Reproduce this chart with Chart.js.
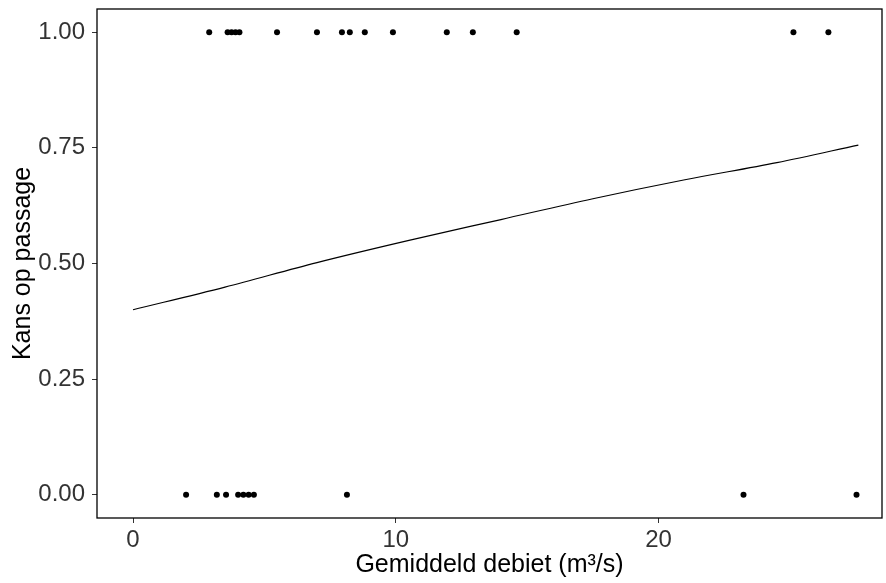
<!DOCTYPE html>
<html>
<head>
<meta charset="utf-8">
<script src="https://cdn.jsdelivr.net/npm/chart.js@4/dist/chart.umd.min.js"></script>
<style>
  html, body { margin: 0; padding: 0; background: #fff; }
  #chart { display: block; }
</style>
</head>
<body>
<canvas id="chart" width="886" height="583"></canvas>
<script>
// observed passages (1) and non-passages (0) by mean discharge
const passX = [2.9, 3.6, 3.75, 3.9, 4.05, 5.48, 7.0, 7.95, 8.25, 8.82, 9.89, 11.94, 12.93, 14.6, 25.13, 26.46];
const failX = [2.02, 3.19, 3.54, 4.0, 4.2, 4.4, 4.6, 8.14, 23.23, 27.53];

// fitted curve
const fitX = [0, 3.5, 7, 10.5, 14, 17.5, 21, 24.5, 27.6];
const fitY = [0.400, 0.449, 0.502, 0.550, 0.595, 0.640, 0.681, 0.718, 0.756];

const xTicks = [0, 10, 20];
const yTicks = [0, 0.25, 0.5, 0.75, 1];

const tickFont = { family: "Liberation Sans, Arial, sans-serif", size: 24 };
const titleFont = { family: "Liberation Sans, Arial, sans-serif", size: 25 };

// ggplot-style panel border all round
const panelBorder = {
  id: "panelBorder",
  afterDraw(chart) {
    const { ctx, chartArea: a } = chart;
    ctx.save();
    ctx.strokeStyle = "#000";
    ctx.lineWidth = 1.3;
    ctx.strokeRect(a.left, a.top, a.right - a.left, a.bottom - a.top);
    ctx.restore();
  }
};

new Chart(document.getElementById("chart"), {
  type: "scatter",
  data: {
    datasets: [
      {
        data: passX.map(x => ({ x: x, y: 1 })),
        pointRadius: 3,
        pointBackgroundColor: "#000",
        pointBorderWidth: 0
      },
      {
        data: failX.map(x => ({ x: x, y: 0 })),
        pointRadius: 3,
        pointBackgroundColor: "#000",
        pointBorderWidth: 0
      },
      {
        type: "line",
        data: fitX.map((x, i) => ({ x: x, y: fitY[i] })),
        borderColor: "#000",
        borderWidth: 1.2,
        pointRadius: 0,
        fill: false,
        cubicInterpolationMode: "monotone"
      }
    ]
  },
  options: {
    responsive: false,
    animation: false,
    layout: { padding: { left: 0, right: 2, top: 9, bottom: 0 } },
    plugins: {
      legend: { display: false },
      tooltip: { enabled: false }
    },
    scales: {
      x: {
        type: "linear",
        min: -1.37,
        max: 28.5,
        afterBuildTicks: scale => { scale.ticks = xTicks.map(v => ({ value: v })); },
        afterFit: scale => {
          scale.height = 65;
          scale.paddingLeft = 0;
          scale.paddingRight = 0;
        },
        ticks: { font: tickFont, color: "#333", padding: 3, maxRotation: 0 },
        grid: { drawOnChartArea: false, drawTicks: true, tickLength: 5, tickColor: "#333" },
        border: { display: false },
        title: {
          display: true,
          text: "Gemiddeld debiet (m³/s)",
          font: titleFont,
          color: "#000",
          padding: { top: 0, bottom: 3 }
        }
      },
      y: {
        type: "linear",
        min: -0.05,
        max: 1.05,
        afterBuildTicks: scale => { scale.ticks = yTicks.map(v => ({ value: v })); },
        afterFit: scale => {
          scale.width = 97;
          scale.paddingTop = 0;
          scale.paddingBottom = 0;
        },
        ticks: { font: tickFont, color: "#333", padding: 7, callback: v => Number(v).toFixed(2) },
        grid: { drawOnChartArea: false, drawTicks: true, tickLength: 5, tickColor: "#333" },
        border: { display: false },
        title: {
          display: true,
          text: "Kans op passage",
          font: titleFont,
          color: "#000",
          padding: { top: 8, bottom: 0 }
        }
      }
    }
  },
  plugins: [panelBorder]
});
</script>
</body>
</html>
